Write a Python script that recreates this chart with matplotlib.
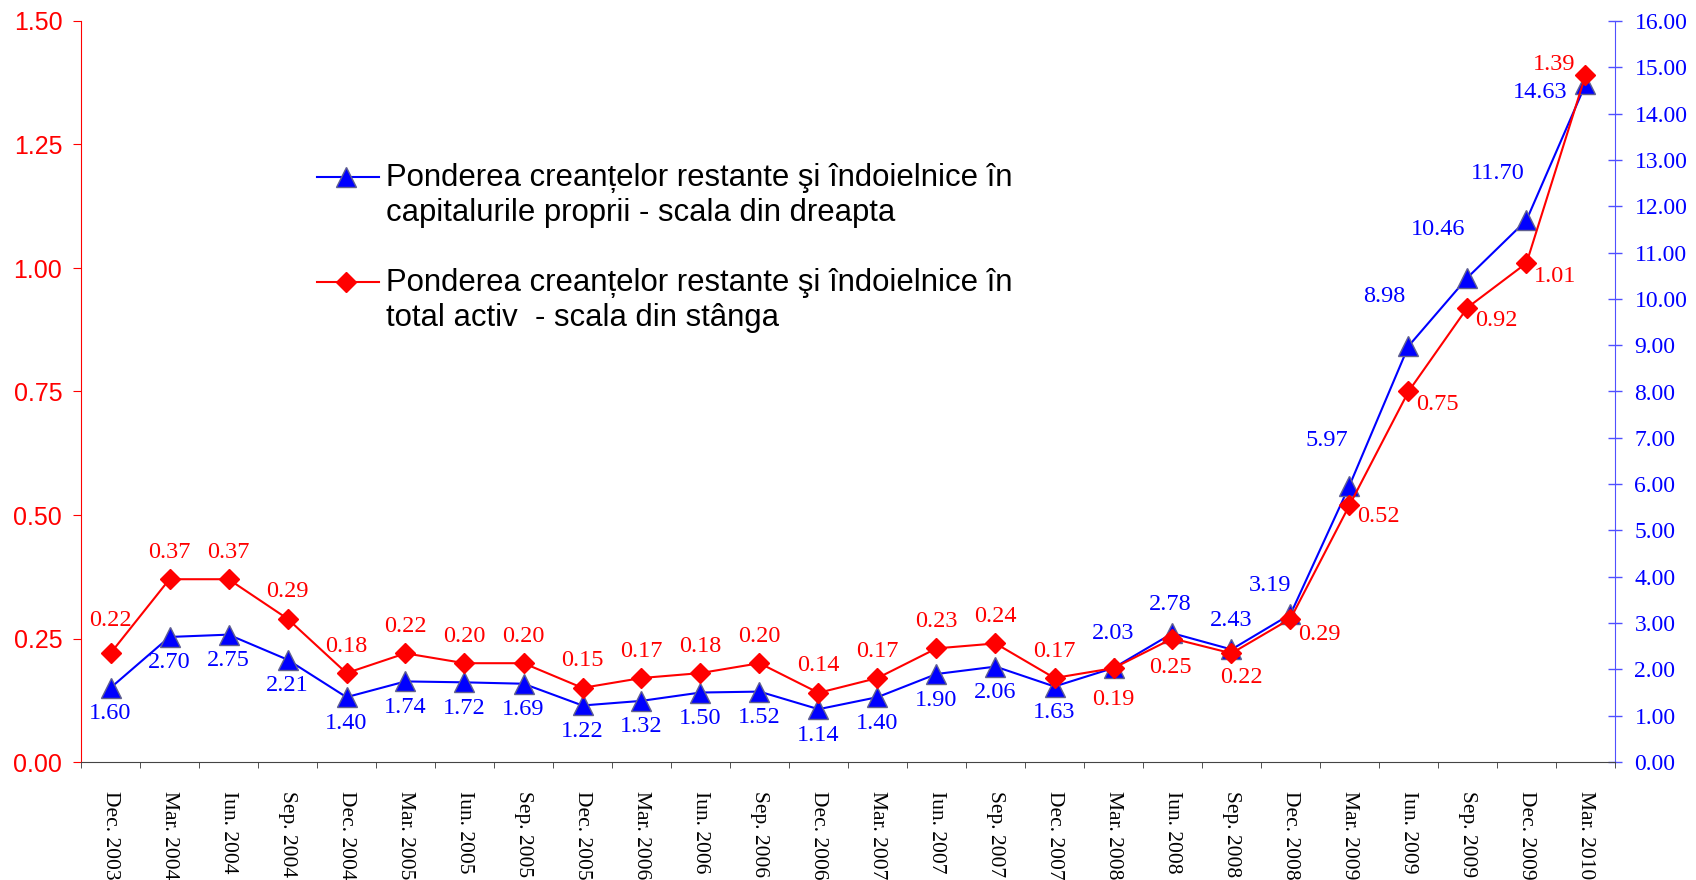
import numpy as np
import matplotlib
matplotlib.use('Agg')
import matplotlib.pyplot as plt
from matplotlib.lines import Line2D

# date trimestriale
luni = ['Dec. 2003', 'Mar. 2004', 'Iun. 2004', 'Sep. 2004', 'Dec. 2004', 'Mar. 2005',
        'Iun. 2005', 'Sep. 2005', 'Dec. 2005', 'Mar. 2006', 'Iun. 2006', 'Sep. 2006',
        'Dec. 2006', 'Mar. 2007', 'Iun. 2007', 'Sep. 2007', 'Dec. 2007', 'Mar. 2008',
        'Iun. 2008', 'Sep. 2008', 'Dec. 2008', 'Mar. 2009', 'Iun. 2009', 'Sep. 2009',
        'Dec. 2009', 'Mar. 2010']
# scala din dreapta
capitaluri = [1.60, 2.70, 2.75, 2.21, 1.40, 1.74, 1.72, 1.69, 1.22, 1.32, 1.50, 1.52, 1.14,
              1.40, 1.90, 2.06, 1.63, 2.03, 2.78, 2.43, 3.19, 5.97, 8.98, 10.46, 11.70, 14.63]
# scala din stanga
activ = [0.22, 0.37, 0.37, 0.29, 0.18, 0.22, 0.20, 0.20, 0.15, 0.17, 0.18, 0.20, 0.14,
         0.17, 0.23, 0.24, 0.17, 0.19, 0.25, 0.22, 0.29, 0.52, 0.75, 0.92, 1.01, 1.39]

lbl_capital = 'Ponderea creanțelor restante şi îndoielnice în\ncapitalurile proprii - scala din dreapta'
lbl_activ = 'Ponderea creanțelor restante şi îndoielnice în\ntotal activ  - scala din stânga'

# deplasarea etichetelor (pixeli)
off_blue = [(0, -26)] * 17 + [(0, 34), (-2, 29), (0, 29), (-20, 29), (-23, 45),
                              (-24, 50), (-29, 48), (-29, 47), (-45, -8)]
off_red = [(0, 33)] + [(0, 27)] * 16 + [(0, -31), (-2, -29), (10, -24), (29, -16),
                                        (29, -11), (29, -13), (29, -13), (29, -13), (-31, 11)]

sans = 'Liberation Sans'
serif = 'Liberation Serif'

fig = plt.figure(figsize=(16.96, 8.8), dpi=100)
ax = fig.add_axes([81/1696, 1-762/880, (1615-81)/1696, (762-21)/880])
ax2 = ax.twinx()
x = np.arange(len(luni))

ax2.plot(x, capitaluri, color='blue', lw=1.5, marker='^', ms=14,
         mfc='blue', mec='#606090', mew=1)
ax.plot(x, activ, color='red', lw=1.5, marker='D', ms=10.5, mfc='red', mec='red')
ax.set_zorder(ax2.get_zorder() + 1)
ax.patch.set_visible(False)

for i in range(len(x)):
    ax2.annotate('%.2f' % capitaluri[i], (x[i], capitaluri[i]), xytext=off_blue[i],
                 textcoords='offset pixels', ha='center', va='center',
                 color='blue', fontsize=17.5, family=serif)
    ax.annotate('%.2f' % activ[i], (x[i], activ[i]), xytext=off_red[i],
                textcoords='offset pixels', ha='center', va='center',
                color='red', fontsize=17.5, family=serif)

ax.set_xlim(-0.5, len(x) - 0.5)
ax.set_ylim(0, 1.5)
ax2.set_ylim(0, 16)
ax.set_yticks(np.arange(0, 1.51, 0.25))
ax.set_yticklabels(['%.2f' % v for v in np.arange(0, 1.51, 0.25)], family=sans, fontsize=18)
ax2.set_yticks(np.arange(0, 17, 1))
ax2.set_yticklabels(['%.2f' % v for v in range(17)], family=serif, fontsize=17)
ax.set_xticks(x)
ax.set_xticklabels(luni, rotation=-90, family=serif, fontsize=15.5, va='top')
ax.set_xticks(np.arange(-0.5, len(x)), minor=True)

ax.tick_params(axis='y', colors='red', direction='out', length=5.5, pad=8)
ax2.tick_params(axis='y', colors='blue', direction='inout', length=10, pad=9, width=1)
ax2.tick_params(axis='y', color='#5050ff')
ax.tick_params(axis='x', which='major', length=0, pad=21)
ax.tick_params(axis='x', which='minor', length=4.5, color='#333333')

for a in (ax, ax2):
    a.spines['top'].set_visible(False)
ax.spines['right'].set_visible(False)
ax.spines['left'].set_color('red')
ax.spines['bottom'].set_color('#444444')
ax2.spines['left'].set_visible(False)
ax2.spines['bottom'].set_visible(False)
ax2.spines['right'].set_color('#5050ff')

# legenda
fig.add_artist(Line2D([317/1696, 379/1696], [1-177/880] * 2, color='blue', lw=1.5))
fig.add_artist(Line2D([346/1696], [1-177/880], marker='^', ms=14, color='blue',
                      mec='#606090', mew=1))
fig.add_artist(Line2D([317/1696, 379/1696], [1-282/880] * 2, color='red', lw=1.5))
fig.add_artist(Line2D([346/1696], [1-282/880], marker='D', ms=10.5, color='red'))
fig.text(386/1696, 1-163/880, lbl_capital, family=sans, fontsize=22.4, va='top',
         linespacing=1.2)
fig.text(386/1696, 1-268/880, lbl_activ, family=sans, fontsize=22.4, va='top',
         linespacing=1.2)

plt.savefig('out.png', dpi=100)
